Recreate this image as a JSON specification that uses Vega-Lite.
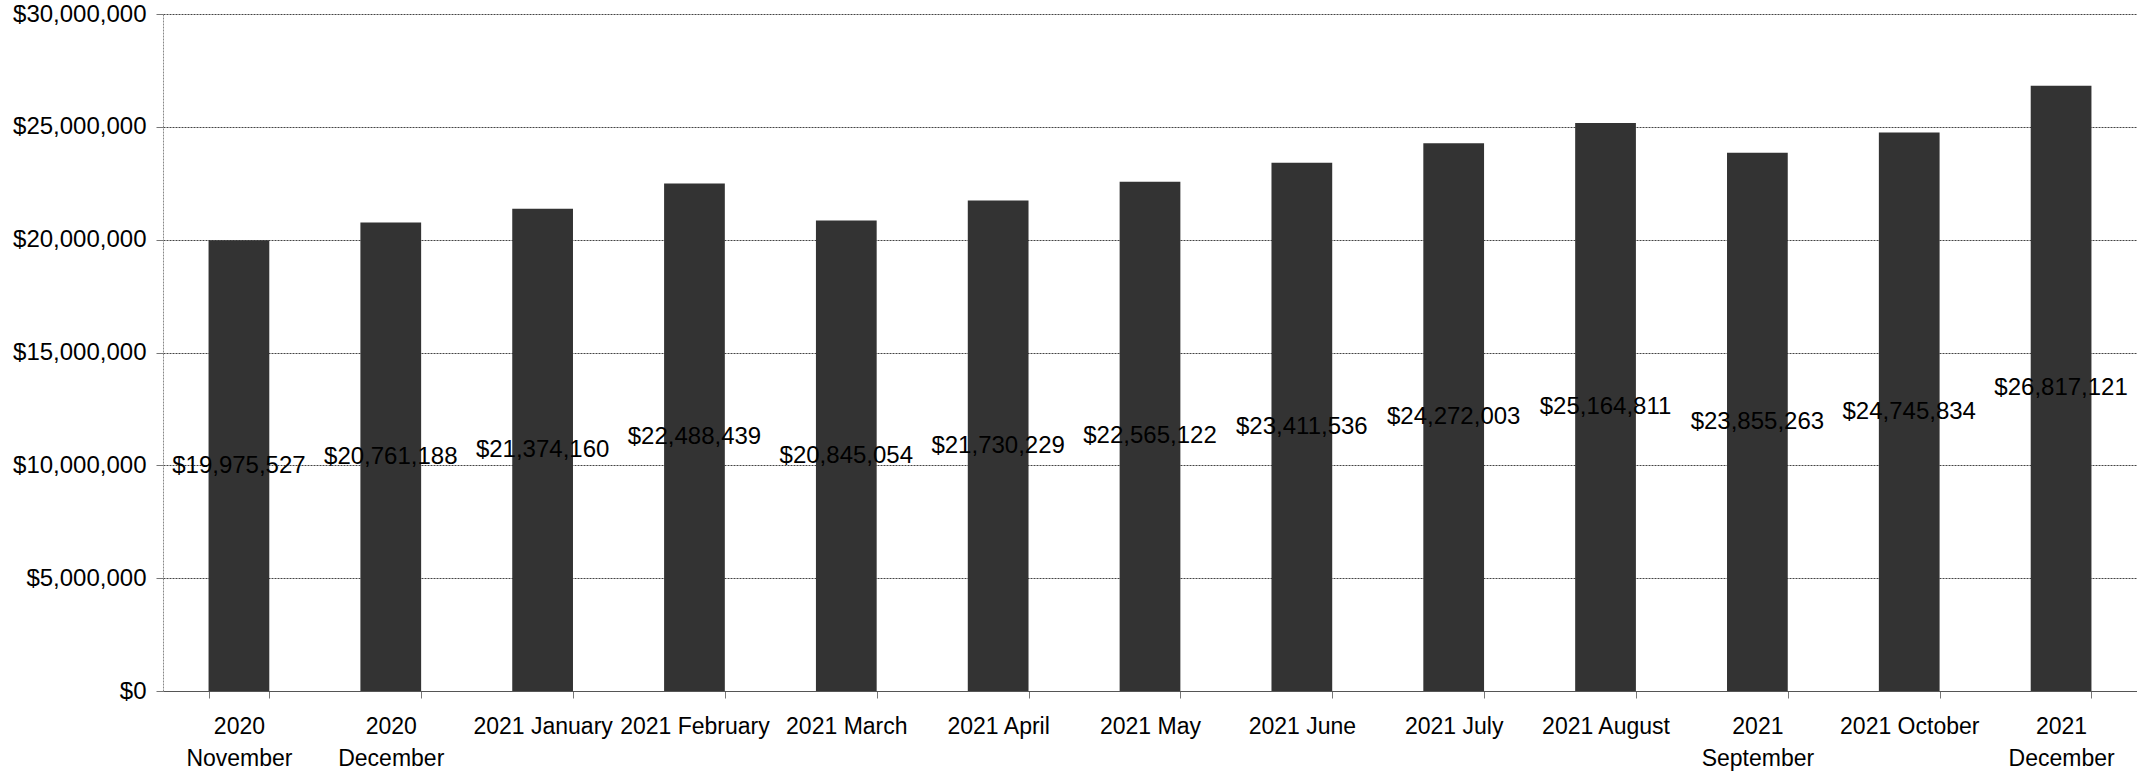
{
  "$schema": "https://vega.github.io/schema/vega-lite/v6.json",
  "width": 1974,
  "height": 677,
  "autosize": {"type": "none"},
  "padding": {"left": 163, "top": 14, "right": 0, "bottom": 80},
  "background": "white",
  "config": {"view": {"stroke": null}, "font": "Liberation Sans"},
  "data": {
    "values": [
      {"month": "2020 November", "value": 19975527},
      {"month": "2020 December", "value": 20761188},
      {"month": "2021 January", "value": 21374160},
      {"month": "2021 February", "value": 22488439},
      {"month": "2021 March", "value": 20845054},
      {"month": "2021 April", "value": 21730229},
      {"month": "2021 May", "value": 22565122},
      {"month": "2021 June", "value": 23411536},
      {"month": "2021 July", "value": 24272003},
      {"month": "2021 August", "value": 25164811},
      {"month": "2021 September", "value": 23855263},
      {"month": "2021 October", "value": 24745834},
      {"month": "2021 December", "value": 26817121}
    ]
  },
  "layer": [
    {
      "mark": {"type": "bar", "color": "#333333"},
      "encoding": {
        "x": {
          "field": "month",
          "type": "nominal",
          "sort": null,
          "scale": {"paddingInner": 0.6, "paddingOuter": 0.3},
          "axis": {
            "title": null,
            "labelAngle": 0,
            "labelFontSize": 23,
            "labelColor": "black",
            "labelPadding": 17,
            "labelLineHeight": 32,
            "labelLimit": 400,
            "labelOverlap": false,
            "tickBand": "extent",
            "tickSize": 7,
            "tickColor": "#777777",
            "domainColor": "#555555",
            "labelExpr": "indexof(['2020 November','2020 December','2021 September','2021 December'], datum.label) >= 0 ? split(datum.label, ' ') : datum.label"
          }
        },
        "y": {
          "field": "value",
          "type": "quantitative",
          "scale": {"domain": [0, 30000000]},
          "axis": {
            "title": null,
            "values": [0, 5000000, 10000000, 15000000, 20000000, 25000000, 30000000],
            "format": "$,.0f",
            "labelFontSize": 24,
            "labelColor": "black",
            "labelPadding": 10,
            "tickSize": 7,
            "tickColor": "#777777",
            "domainColor": "#888888",
            "domainDash": [2, 1],
            "grid": true,
            "gridColor": "#444444",
            "gridDash": [2, 1],
            "gridWidth": 1
          }
        }
      }
    },
    {
      "mark": {"type": "text", "fontSize": 24, "color": "black", "baseline": "middle", "align": "center"},
      "encoding": {
        "x": {"field": "month", "type": "nominal", "sort": null},
        "y": {"field": "value", "type": "quantitative", "scale": {"domain": [0, 60000000]}, "axis": null},
        "text": {"field": "value", "type": "quantitative", "format": "$,.0f"}
      }
    }
  ],
  "resolve": {"scale": {"y": "independent"}}
}
